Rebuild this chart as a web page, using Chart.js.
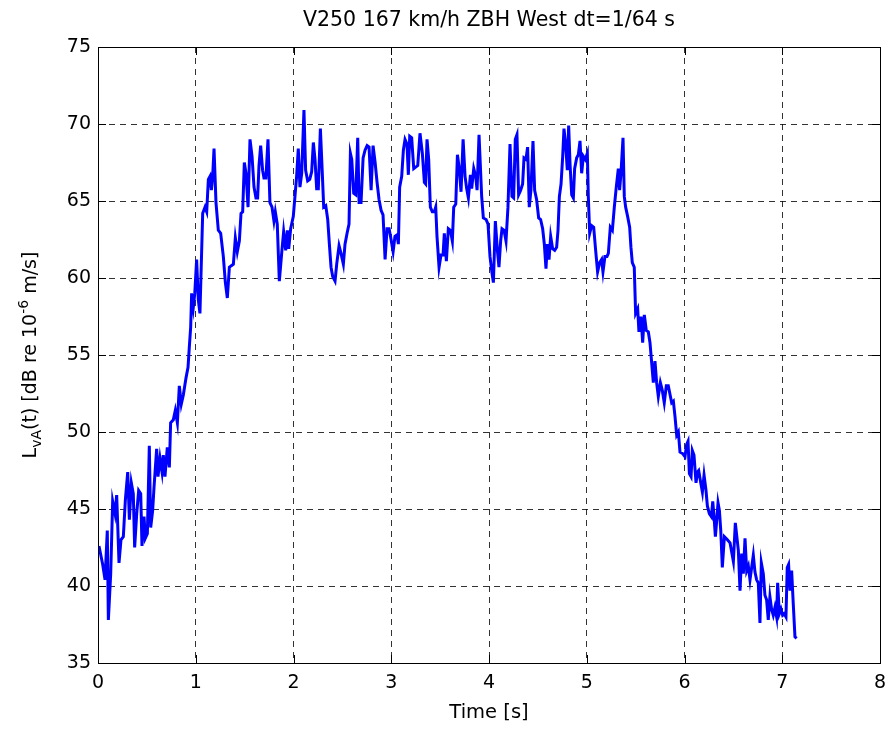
<!DOCTYPE html>
<html lang="en">
<head>
    <meta charset="UTF-8">
    <title>V250 167 km/h ZBH West</title>
    <style>
        body {
            margin: 0;
            background-color: #fff;
        }
        canvas {
            display: block;
        }
    </style>
</head>
<body>

<canvas id="myChart" width="889" height="729"></canvas>

<script src="https://cdn.jsdelivr.net/npm/chart.js@4.4.0/dist/chart.umd.min.js"></script>
<script>
// time axis [s]
const timeS = [
    0.010, 0.048, 0.072, 0.095, 0.106, 0.130, 0.150, 0.174, 0.191, 0.215,
    0.235, 0.259, 0.280, 0.304, 0.321, 0.341, 0.361, 0.375, 0.396, 0.416,
    0.437, 0.450, 0.471, 0.484, 0.505, 0.525, 0.539, 0.559, 0.573, 0.600,
    0.614, 0.634, 0.655, 0.668, 0.685, 0.709, 0.730, 0.743, 0.771, 0.791,
    0.812, 0.832, 0.852, 0.873, 0.900, 0.921, 0.934, 0.948,
    0.958, 0.975, 0.990, 1.009, 1.026, 1.043, 1.071, 1.095, 1.112, 1.129,
    1.146, 1.160, 1.173, 1.187, 1.207, 1.231, 1.255, 1.282, 1.303, 1.323,
    1.344, 1.364, 1.385, 1.405, 1.425, 1.446, 1.463, 1.480, 1.497, 1.514,
    1.535, 1.555, 1.576, 1.596, 1.616, 1.633, 1.647, 1.664, 1.684, 1.698,
    1.718, 1.739, 1.759, 1.780, 1.800, 1.814, 1.834, 1.855, 1.879, 1.899,
    1.920, 1.937, 1.951, 1.971,
    1.998, 2.015, 2.032, 2.049, 2.066, 2.084, 2.107, 2.124, 2.145, 2.166,
    2.186, 2.203, 2.220, 2.237, 2.254, 2.275, 2.292, 2.309, 2.330, 2.350,
    2.367, 2.384, 2.401, 2.425, 2.442, 2.466, 2.486, 2.510, 2.527, 2.548,
    2.568, 2.582, 2.596, 2.616, 2.637, 2.657, 2.671, 2.691, 2.712, 2.732,
    2.753, 2.773, 2.794, 2.814, 2.835, 2.855, 2.875, 2.896, 2.916, 2.937,
    2.957, 2.978, 2.998, 3.019,
    3.038, 3.059, 3.073, 3.086, 3.107, 3.124, 3.141, 3.161, 3.175, 3.189,
    3.209, 3.230, 3.250, 3.271, 3.294, 3.318, 3.339, 3.352, 3.366, 3.383,
    3.400, 3.420, 3.441, 3.455, 3.468, 3.489, 3.509, 3.530, 3.543, 3.564,
    3.584, 3.605, 3.625, 3.639, 3.660, 3.677, 3.694, 3.714, 3.735, 3.755,
    3.772, 3.789, 3.810, 3.823, 3.844, 3.864, 3.878, 3.898,
    3.925, 3.942, 3.970, 3.990, 4.010, 4.031, 4.045, 4.065, 4.086, 4.102,
    4.119, 4.133, 4.154, 4.174, 4.194, 4.215, 4.235, 4.252, 4.269, 4.286,
    4.303, 4.324, 4.344, 4.358, 4.378, 4.395, 4.412, 4.429, 4.450, 4.467,
    4.487, 4.508, 4.528, 4.549, 4.566, 4.583, 4.597, 4.614, 4.631, 4.651,
    4.672, 4.692, 4.706, 4.720, 4.737, 4.754, 4.767, 4.784, 4.801, 4.815,
    4.829, 4.846, 4.863, 4.876, 4.897, 4.914, 4.931, 4.948, 4.965, 4.985,
    5.006,
    5.016, 5.030, 5.050, 5.071, 5.091, 5.111, 5.132, 5.152, 5.166, 5.186,
    5.207, 5.221, 5.241, 5.262, 5.282, 5.302, 5.323, 5.336, 5.350, 5.371,
    5.384, 5.398, 5.418, 5.439, 5.452, 5.466, 5.486, 5.500, 5.521, 5.534,
    5.555, 5.572, 5.589, 5.609, 5.630, 5.647, 5.664, 5.681, 5.698, 5.715,
    5.732, 5.753, 5.773, 5.793, 5.814, 5.834,
    5.869, 5.886, 5.903, 5.920, 5.937, 5.954, 5.981, 6.005, 6.022, 6.036,
    6.050, 6.067, 6.080, 6.097, 6.118, 6.132, 6.145, 6.166, 6.183, 6.200,
    6.220, 6.234, 6.254, 6.275, 6.289, 6.302, 6.316, 6.330, 6.343, 6.357,
    6.371,
    6.387, 6.408, 6.439, 6.466, 6.500, 6.520, 6.551, 6.568, 6.585, 6.602,
    6.619, 6.636, 6.653, 6.670, 6.687, 6.704, 6.721, 6.738, 6.755, 6.772,
    6.786, 6.806, 6.823, 6.840, 6.857, 6.874, 6.891, 6.908, 6.925, 6.942,
    6.953, 6.970, 6.987, 7.004, 7.021, 7.038, 7.051, 7.065, 7.079, 7.096,
    7.113, 7.130, 7.147
];

// L_vA(t) [dB re 1e-6 m/s]
const levelDb = [
    42.6, 41.4, 40.4, 43.6, 37.8, 40.8, 45.5, 44.7, 45.9, 41.5,
    43.0, 43.2, 45.6, 47.4, 44.3, 46.7, 46.0, 42.5, 44.7, 46.2,
    46.0, 42.6, 44.5, 43.1, 43.4, 49.1, 43.8, 44.9, 46.4, 48.9,
    47.1, 48.3, 47.4, 48.5, 47.1, 49.0, 47.7, 50.6, 50.8, 51.4,
    50.6, 53.0, 51.8, 52.4, 53.5, 54.2, 55.5, 56.8,
    59.0, 58.1, 59.0, 61.2, 58.6, 57.7, 64.2, 64.6, 64.3, 66.4,
    66.6, 65.7, 66.6, 68.4, 64.9, 63.1, 62.9, 61.4, 59.7, 58.7,
    60.7, 60.8, 60.9, 62.6, 61.7, 62.4, 64.2, 64.3, 67.5, 66.8,
    64.6, 69.0, 67.9, 65.9, 65.2, 65.2, 67.3, 68.6, 67.0, 66.5,
    66.5, 69.0, 64.9, 64.6, 63.7, 64.3, 63.5, 59.8, 61.6, 63.0,
    61.8, 63.1, 61.9, 63.2,
    64.0, 65.3, 66.6, 68.4, 65.9, 66.8, 70.9, 67.0, 66.3, 66.4,
    66.9, 68.8, 67.7, 65.8, 65.8, 69.7, 67.2, 64.6, 64.7, 63.8,
    62.2, 60.7, 60.1, 59.8, 60.9, 62.1, 61.6, 60.9, 62.2, 62.9,
    63.5, 68.1, 67.7, 65.5, 65.4, 69.1, 64.9, 64.9, 67.8, 68.3,
    68.6, 68.5, 65.7, 68.6, 67.5, 66.2, 65.1, 64.4, 64.1, 61.2,
    63.2, 63.2, 62.5, 61.7,
    62.7, 62.8, 62.2, 65.9, 66.6, 68.3, 69.0, 68.7, 66.7, 69.2,
    69.1, 67.1, 67.2, 67.3, 69.4, 68.1, 66.2, 66.1, 69.0, 67.7,
    64.6, 64.3, 64.3, 64.6, 62.7, 60.7, 61.5, 61.5, 62.9, 61.1,
    63.2, 63.1, 62.4, 64.6, 64.8, 68.0, 67.2, 65.6, 69.0, 66.6,
    65.8, 65.2, 66.7, 65.8, 67.1, 66.6, 65.7, 69.3,
    65.3, 63.9, 63.8, 63.5, 61.4, 60.3, 59.7, 63.7, 61.8, 60.7,
    62.4, 63.2, 63.1, 62.4, 64.6, 68.7, 65.3, 65.2, 69.0, 69.3,
    65.4, 65.7, 66.1, 67.8, 67.7, 68.5, 64.6, 65.7, 68.9, 65.7,
    65.1, 63.9, 63.8, 63.2, 62.2, 60.6, 62.2, 61.2, 62.7, 61.9,
    61.8, 62.0, 63.1, 65.3, 66.1, 67.9, 69.7, 68.7, 67.0, 69.9,
    67.4, 65.4, 65.2, 67.1, 67.8, 68.0, 68.9, 66.8, 67.9, 67.7,
    68.1,
    65.3, 62.9, 63.4, 63.3, 61.8, 60.4, 61.0, 61.2, 60.4, 61.4,
    61.4, 61.6, 63.3, 63.1, 64.6, 65.9, 67.1, 65.7, 66.8, 69.1,
    65.3, 64.6, 64.0, 63.3, 62.0, 61.0, 60.7, 57.7, 58.0, 56.5,
    57.5, 55.8, 57.6, 56.6, 56.5, 55.8, 54.5, 53.2, 54.6, 53.2,
    52.3, 53.2, 52.7, 51.9, 53.0, 53.0,
    51.9, 52.0, 51.0, 49.8, 50.0, 48.7, 48.6, 48.4, 49.2, 49.4,
    47.3, 47.1, 48.8, 48.5, 46.7, 47.4, 47.5, 46.7, 46.1, 47.2,
    46.2, 45.2, 44.7, 44.5, 45.5, 44.5, 43.2, 44.3, 45.4, 44.9,
    43.6,
    41.2, 43.2, 43.0, 42.8, 41.6, 44.1, 42.3, 39.7, 42.1, 40.8,
    43.1, 41.0, 41.3, 40.4, 41.2, 42.0, 40.9, 40.4, 40.2, 37.6,
    41.5, 40.8, 39.4, 39.1, 37.8, 39.3, 38.5, 38.1, 38.6, 38.0,
    40.2, 38.2, 38.5, 38.1, 38.2, 38.0, 41.2, 41.4, 39.7, 41.0,
    38.8, 36.7, 36.6
];

const xTicks = [0, 1, 2, 3, 4, 5, 6, 7, 8];
const yTicks = [35, 40, 45, 50, 55, 60, 65, 70, 75];

const FONT = "'DejaVu Sans', sans-serif";

// box round the plot with small inward ticks, like matlab
const framePlugin = {
    id: 'frame',
    afterDatasetsDraw(chart) {
        const ctx = chart.ctx;
        const a = chart.chartArea;
        const xs = chart.scales.x;
        const ys = chart.scales.y;
        ctx.save();
        ctx.strokeStyle = '#000';
        ctx.lineWidth = 1;
        ctx.strokeRect(Math.round(a.left) + 0.5, Math.round(a.top) + 0.5,
                       Math.round(a.right - a.left), Math.round(a.bottom - a.top));
        ctx.beginPath();
        xTicks.forEach(v => {
            const px = Math.round(xs.getPixelForValue(v)) + 0.5;
            ctx.moveTo(px, a.bottom); ctx.lineTo(px, a.bottom - 8);
            ctx.moveTo(px, a.top); ctx.lineTo(px, a.top + 8);
        });
        yTicks.forEach(v => {
            const py = Math.round(ys.getPixelForValue(v)) + 0.5;
            ctx.moveTo(a.left, py); ctx.lineTo(a.left + 8, py);
            ctx.moveTo(a.right, py); ctx.lineTo(a.right - 8, py);
        });
        ctx.stroke();
        ctx.restore();
    }
};

// y label needs sub/superscripts, so draw it by hand
const yLabelPlugin = {
    id: 'ylabel',
    afterDraw(chart) {
        const ctx = chart.ctx;
        const a = chart.chartArea;
        const parts = [
            { t: 'L', size: 19, dy: 0 },
            { t: 'vA', size: 14, dy: 5 },
            { t: '(t) [dB re 10', size: 19, dy: 0 },
            { t: '-6', size: 14, dy: -8 },
            { t: ' m/s]', size: 19, dy: 0 }
        ];
        ctx.save();
        let total = 0;
        parts.forEach(p => {
            ctx.font = p.size + 'px ' + FONT;
            p.w = ctx.measureText(p.t).width;
            total += p.w;
        });
        ctx.translate(36, (a.top + a.bottom) / 2);
        ctx.rotate(-Math.PI / 2);
        ctx.fillStyle = '#000';
        ctx.textBaseline = 'alphabetic';
        let x = -total / 2;
        parts.forEach(p => {
            ctx.font = p.size + 'px ' + FONT;
            ctx.fillText(p.t, x, p.dy);
            x += p.w;
        });
        ctx.restore();
    }
};

const points = timeS.map((t, i) => ({ x: t, y: levelDb[i] }));

const ctx = document.getElementById('myChart').getContext('2d');
new Chart(ctx, {
    type: 'line',
    data: {
        datasets: [{
            data: points,
            borderColor: '#0000ff',
            borderWidth: 3,
            pointRadius: 0,
            tension: 0,
            fill: false
        }]
    },
    options: {
        responsive: false,
        animation: false,
        layout: {
            padding: { left: 0, right: 9, top: 0, bottom: 0 }
        },
        plugins: {
            legend: { display: false },
            tooltip: { enabled: false },
            title: {
                display: true,
                text: 'V250 167 km/h ZBH West dt=1/64 s',
                fullSize: false,
                color: '#000',
                font: { family: FONT, size: 20.5, weight: 'normal' },
                padding: { top: 8.5, bottom: 13.9 }
            }
        },
        scales: {
            x: {
                type: 'linear',
                min: 0,
                max: 8,
                afterFit(scale) {
                    scale.height = 66;
                    scale.paddingLeft = 0;
                    scale.paddingRight = 0;
                },
                afterBuildTicks(scale) { scale.ticks = xTicks.map(v => ({ value: v })); },
                ticks: {
                    color: '#000',
                    padding: 9,
                    maxRotation: 0,
                    font: { family: FONT, size: 19 }
                },
                grid: {
                    color: 'rgba(0,0,0,0.8)',
                    lineWidth: 1,
                    drawTicks: false
                },
                border: { display: false, dash: [6, 5] },
                title: {
                    display: true,
                    text: 'Time [s]',
                    color: '#000',
                    font: { family: FONT, size: 19.5 },
                    padding: { top: 0, bottom: 4 }
                }
            },
            y: {
                min: 35,
                max: 75,
                afterFit(scale) {
                    scale.width = 98;
                    scale.paddingTop = 0;
                    scale.paddingBottom = 0;
                },
                afterBuildTicks(scale) { scale.ticks = yTicks.map(v => ({ value: v })); },
                ticks: {
                    color: '#000',
                    padding: 7,
                    font: { family: FONT, size: 19 }
                },
                grid: {
                    color: 'rgba(0,0,0,0.8)',
                    lineWidth: 1,
                    drawTicks: false
                },
                border: { display: false, dash: [6, 5] }
            }
        }
    },
    plugins: [framePlugin, yLabelPlugin]
});
</script>

</body>
</html>
